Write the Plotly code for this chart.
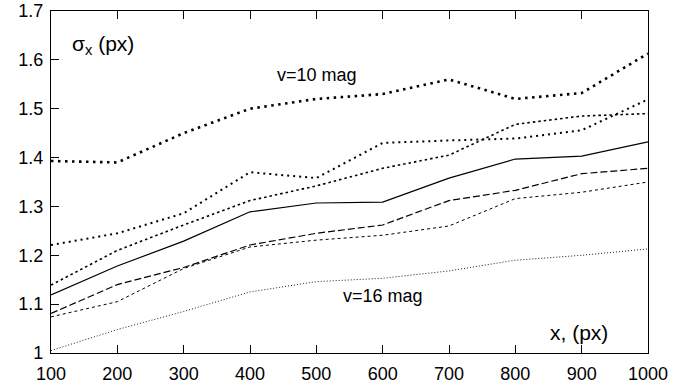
import plotly.graph_objects as go

x_vals = [100, 200, 300, 400, 500, 600, 700, 800, 900, 1000]

s_v10 = [1.393, 1.390, 1.450, 1.500, 1.520, 1.530, 1.560, 1.520, 1.532, 1.613]
s_2 = [1.221, 1.245, 1.286, 1.370, 1.358, 1.430, 1.435, 1.439, 1.456, 1.519]
s_3 = [1.139, 1.210, 1.262, 1.312, 1.342, 1.378, 1.405, 1.468, 1.485, 1.490]
s_solid = [1.119, 1.178, 1.229, 1.289, 1.307, 1.309, 1.358, 1.397, 1.403, 1.432]
s_longdash = [1.081, 1.140, 1.175, 1.221, 1.245, 1.262, 1.312, 1.333, 1.367, 1.378]
s_shortdash = [1.074, 1.105, 1.173, 1.217, 1.231, 1.241, 1.260, 1.316, 1.329, 1.350]
s_v16 = [1.005, 1.048, 1.085, 1.125, 1.146, 1.153, 1.168, 1.190, 1.200, 1.213]

y_ticks = [1.0, 1.1, 1.2, 1.3, 1.4, 1.5, 1.6, 1.7]
y_ticktext = ["1", "1.1", "1.2", "1.3", "1.4", "1.5", "1.6", "1.7"]
x_ticks = x_vals
x_ticktext = [str(v) for v in x_vals]

series = [
    (s_v10, dict(width=2.6, dash="2.5px,4.5px")),
    (s_2, dict(width=2.0, dash="2px,4px")),
    (s_3, dict(width=1.6, dash="2.5px,3px")),
    (s_solid, dict(width=1.2)),
    (s_longdash, dict(width=1.2, dash="7px,3px")),
    (s_shortdash, dict(width=1.0, dash="3px,3px")),
    (s_v16, dict(width=0.9, dash="1px,2px")),
]

fig = go.Figure()
for ys, ln in series:
    fig.add_trace(go.Scatter(x=x_vals, y=ys, mode="lines",
                             line=dict(color="black", **ln),
                             showlegend=False, hoverinfo="skip"))

font_family = "Liberation Sans, Arial, sans-serif"

fig.update_layout(
    width=684, height=383,
    margin=dict(l=51, r=36, t=11, b=30, autoexpand=False),
    paper_bgcolor="white", plot_bgcolor="white",
    font=dict(family=font_family, color="black", size=18),
    xaxis=dict(range=[100, 1000], tickvals=x_ticks, ticktext=x_ticktext,
               ticks="inside", ticklen=8, tickwidth=1.2, tickcolor="black",
               showline=True, linecolor="black", linewidth=1.3, mirror="ticks",
               showgrid=False, zeroline=False, ticklabelstandoff=4,
               automargin=False,
               tickfont=dict(size=18, family=font_family)),
    yaxis=dict(range=[1.0, 1.7], tickvals=y_ticks, ticktext=y_ticktext,
               ticks="inside", ticklen=8, tickwidth=1.2, tickcolor="black",
               showline=True, linecolor="black", linewidth=1.3, mirror=True,
               showgrid=False, zeroline=False, ticklabelstandoff=3,
               automargin=False,
               tickfont=dict(size=18, family=font_family)),
    annotations=[
        dict(text="σ<sub>x</sub> (px)", x=0.032, y=0.9006, xref="paper", yref="paper",
             xanchor="left", yanchor="middle", showarrow=False,
             font=dict(size=21, family=font_family)),
        dict(text="v=10 mag", x=0.375, y=0.813, xref="paper", yref="paper",
             xanchor="left", yanchor="middle", showarrow=False,
             font=dict(size=18, family=font_family)),
        dict(text="v=16 mag", x=0.486, y=0.1667, xref="paper", yref="paper",
             xanchor="left", yanchor="middle", showarrow=False,
             font=dict(size=18, family=font_family)),
        dict(text="x, (px)", x=0.8325, y=0.0614, xref="paper", yref="paper",
             xanchor="left", yanchor="middle", showarrow=False,
             font=dict(size=21, family=font_family)),
    ],
)

fig.write_html("out.html")
